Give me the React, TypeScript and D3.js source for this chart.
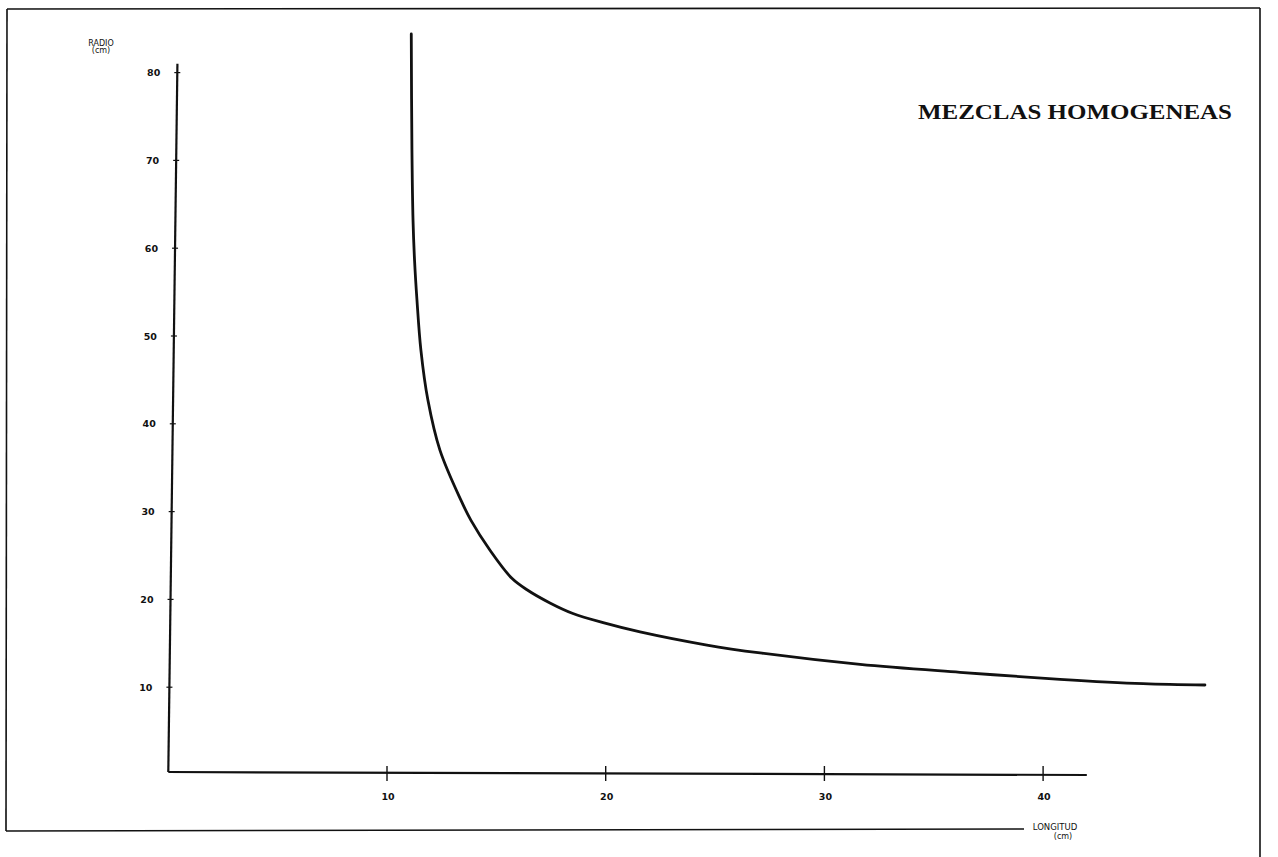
import * as d3 from 'd3'

// values (longitud cm -> radio cm)
const longitud = [11.11, 11.14, 11.19, 11.26, 11.37, 11.55, 11.87, 12.42, 13.38, 13.84, 14.71, 15.71, 16.4, 17.45, 18.5, 19.97, 21.57, 24.63, 27.06, 31.63, 36.2, 40.77, 44.57, 47.4]
const radio = [84.4, 71.2, 63.2, 58.6, 54.1, 48.4, 42.7, 37.0, 31.3, 29.0, 25.6, 22.4, 21.1, 19.6, 18.4, 17.3, 16.3, 14.8, 13.9, 12.6, 11.7, 10.9, 10.4, 10.25]
const xTickValues = [10, 20, 30, 40]
const yTickValues = [10, 20, 30, 40, 50, 60, 70, 80]
const title = 'MEZCLAS HOMOGENEAS'

export default function App() {
  const width = 1278
  const height = 857
  const x = d3.scaleLinear().domain([0, 10]).range([168.3, 387])
  const y = d3.scaleLinear().domain([0, 80]).range([775, 72.6])
  // the scanned y axis leans a little to the right towards the top
  const lean = d3.scaleLinear().domain([0, 80]).range([0, 9])
  const points = longitud.map((l, i) => ({ l, r: radio[i] }))
  const line = d3
    .line<{ l: number; r: number }>()
    .x((d) => x(d.l))
    .y((d) => y(d.r))
    .curve(d3.curveCatmullRom.alpha(0.5))

  const ink = '#111'
  const tickFont = "'DejaVu Sans', sans-serif"

  return (
    <svg
      width={width}
      height={height}
      viewBox={`0 0 ${width} ${height}`}
      style={{ position: 'absolute', left: 0, top: 0, background: '#fff' }}
    >
      {/* scanned page frame */}
      <g stroke={ink} strokeWidth="1.6" fill="none">
        <line x1={7} y1={9} x2={1260} y2={8} />
        <line x1={7} y1={9} x2={6} y2={831} />
        <line x1={6} y1={831} x2={1024} y2={829} />
        <line x1={1260} y1={8} x2={1260} y2={857} />
      </g>

      {/* axes */}
      <line
        x1={x(0) + lean(81)}
        x2={x(0)}
        y1={y(81)}
        y2={y(0) - 3}
        stroke={ink}
        strokeWidth="2.2"
      />
      <line x1={x(0)} x2={x(42)} y1={y(0) - 3} y2={y(0)} stroke={ink} strokeWidth="2.2" />

      {yTickValues.map((tick) => (
        <g key={tick} transform={`translate(${lean(tick)},${y(tick)})`}>
          <line x1={x(0) - 3} x2={x(0) + 3} y1={0} y2={0} stroke={ink} strokeWidth="1.2" />
          <text
            x={x(0) - 17}
            y={3.5}
            textAnchor="end"
            fontSize="9.5"
            fontWeight="bold"
            fontFamily={tickFont}
            fill={ink}
          >
            {tick}
          </text>
        </g>
      ))}

      {xTickValues.map((tick) => (
        <g key={tick} transform={`translate(${x(tick)},0)`}>
          <line x1={0} x2={0} y1={y(0) - 9} y2={y(0) + 6} stroke={ink} strokeWidth="1.4" />
          <text
            x={1}
            y={y(0) + 25}
            textAnchor="middle"
            fontSize="9.5"
            fontWeight="bold"
            fontFamily={tickFont}
            fill={ink}
          >
            {tick}
          </text>
        </g>
      ))}

      {/* axis titles */}
      <text x={101} y={46} textAnchor="middle" fontSize="8" fontFamily={tickFont} fill={ink}>
        RADIO
      </text>
      <text x={101} y={53} textAnchor="middle" fontSize="8" fontFamily={tickFont} fill={ink}>
        (cm)
      </text>
      <text x={1055} y={830} textAnchor="middle" fontSize="8.5" fontFamily={tickFont} fill={ink}>
        LONGITUD
      </text>
      <text x={1063} y={839} textAnchor="middle" fontSize="8" fontFamily={tickFont} fill={ink}>
        (cm)
      </text>

      <text
        x={918}
        y={119}
        fontSize="21"
        fontWeight="bold"
        fontFamily="'Liberation Serif', serif"
        textLength={314}
        lengthAdjust="spacingAndGlyphs"
        fill={ink}
      >
        {title}
      </text>

      <path d={line(points) ?? ''} fill="none" stroke={ink} strokeWidth="2.8" strokeLinecap="round" />
    </svg>
  )
}
